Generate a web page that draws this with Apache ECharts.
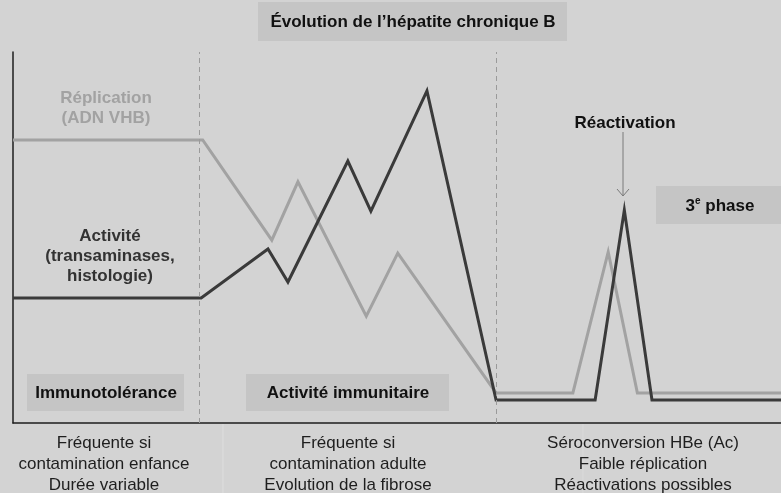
<!DOCTYPE html>
<html>
<head>
<meta charset="utf-8">
<script src="https://cdn.jsdelivr.net/npm/echarts@6/dist/echarts.min.js"></script>
<style>
  html, body { margin: 0; padding: 0; background: #d3d3d3; }
  #main { width: 781px; height: 493px; }
</style>
</head>
<body>
<div id="main"></div>
<script>
// temps (0-100) et niveau (0-100)
var replicationX = [0, 24.7, 33.7, 37.1, 46.0, 50.1, 62.9, 72.9, 77.5, 81.3, 100];
var replicationY = [76.3, 76.3, 49.3, 65.0, 28.8, 45.8, 8.1, 8.1, 46.1, 8.1, 8.1];
var activiteX = [0, 24.5, 33.2, 35.8, 43.6, 46.6, 53.9, 62.9, 75.8, 79.6, 83.2, 100];
var activiteY = [33.7, 33.7, 46.9, 38.0, 70.6, 57.1, 89.5, 6.2, 6.2, 57.4, 6.2, 6.2];
var phaseLimits = [24.3, 62.9];
var phaseNames = ['Immunotolérance', 'Activité immunitaire'];
var phaseNotes = [
  'Fréquente si\ncontamination enfance\nDurée variable',
  'Fréquente si\ncontamination adulte\nEvolution de la fibrose',
  'Séroconversion HBe (Ac)\nFaible réplication\nRéactivations possibles'
];

function pairs(xs, ys) {
  return xs.map(function (x, i) { return [x, ys[i]]; });
}

var font = '"Liberation Sans", Arial, sans-serif';
var myChart = echarts.init(document.getElementById('main'));

var option = {
  backgroundColor: '#d3d3d3',
  animation: false,
  grid: { left: 13, right: 0, top: 52, bottom: 70 },
  xAxis: {
    type: 'value', min: 0, max: 100,
    axisLine: { show: true, lineStyle: { color: '#1e1e1e', width: 1.5 } },
    axisTick: { show: false }, axisLabel: { show: false }, splitLine: { show: false }
  },
  yAxis: {
    type: 'value', min: 0, max: 100,
    axisLine: { show: true, lineStyle: { color: '#1e1e1e', width: 1.5 } },
    axisTick: { show: false }, axisLabel: { show: false }, splitLine: { show: false }
  },
  series: [
    {
      name: 'Réplication',
      type: 'line',
      data: pairs(replicationX, replicationY),
      symbol: 'none',
      lineStyle: { color: '#a2a2a2', width: 3, join: 'miter' },
      markLine: {
        silent: true,
        symbol: 'none',
        label: { show: false },
        lineStyle: { color: '#9a9a9a', width: 1, type: [5, 4] },
        data: phaseLimits.map(function (v) { return { xAxis: v }; })
      },
      z: 2
    },
    {
      name: 'Activité',
      type: 'line',
      data: pairs(activiteX, activiteY),
      symbol: 'none',
      lineStyle: { color: '#3a3a3a', width: 3, join: 'miter' },
      z: 3
    }
  ],
  graphic: [
    // titre
    { type: 'rect', shape: { x: 258, y: 2, width: 309, height: 39 }, style: { fill: '#c5c5c5' } },
    { type: 'text', x: 413, y: 22, style: { text: 'Évolution de l’hépatite chronique B', font: 'bold 17px ' + font, fill: '#111', align: 'center', verticalAlign: 'middle' } },
    // étiquettes des courbes
    { type: 'text', x: 106, y: 108, style: { text: 'Réplication\n(ADN VHB)', font: 'bold 17px ' + font, fill: '#a2a2a2', align: 'center', verticalAlign: 'middle', lineHeight: 20 } },
    { type: 'text', x: 110, y: 256, style: { text: 'Activité\n(transaminases,\nhistologie)', font: 'bold 17px ' + font, fill: '#333', align: 'center', verticalAlign: 'middle', lineHeight: 20 } },
    // réactivation
    { type: 'text', x: 625, y: 123, style: { text: 'Réactivation', font: 'bold 17px ' + font, fill: '#111', align: 'center', verticalAlign: 'middle' } },
    { type: 'line', shape: { x1: 623, y1: 132, x2: 623, y2: 196 }, style: { stroke: '#7a7a7a', lineWidth: 1 } },
    { type: 'polyline', shape: { points: [[617, 189], [623, 196], [629, 189]] }, style: { stroke: '#7a7a7a', lineWidth: 1, fill: null } },
    // 3e phase
    { type: 'rect', shape: { x: 656, y: 186, width: 125, height: 38 }, style: { fill: '#c5c5c5' } },
    { type: 'text', x: 720, y: 206, style: {
        text: '{a|3}{s|e}{a| phase}', align: 'center', verticalAlign: 'middle',
        rich: {
          a: { font: 'bold 17px ' + font, fill: '#111' },
          s: { font: 'bold 10px ' + font, fill: '#111', padding: [0, 0, 9, 0] }
        }
      } },
    // phases
    { type: 'rect', shape: { x: 27, y: 374, width: 157, height: 37 }, style: { fill: '#c5c5c5' } },
    { type: 'text', x: 106, y: 393, style: { text: phaseNames[0], font: 'bold 17px ' + font, fill: '#111', align: 'center', verticalAlign: 'middle' } },
    { type: 'rect', shape: { x: 246, y: 374, width: 203, height: 37 }, style: { fill: '#c5c5c5' } },
    { type: 'text', x: 348, y: 393, style: { text: phaseNames[1], font: 'bold 17px ' + font, fill: '#111', align: 'center', verticalAlign: 'middle' } },
    // colonnes du bas
    { type: 'line', shape: { x1: 223, y1: 424, x2: 223, y2: 493 }, style: { stroke: '#dedede', lineWidth: 1 } },
    { type: 'line', shape: { x1: 583, y1: 424, x2: 583, y2: 493 }, style: { stroke: '#dadada', lineWidth: 1 } },
    { type: 'text', x: 104, y: 464, style: { text: phaseNotes[0], font: '17px ' + font, fill: '#1e1e1e', align: 'center', verticalAlign: 'middle', lineHeight: 21 } },
    { type: 'text', x: 348, y: 464, style: { text: phaseNotes[1], font: '17px ' + font, fill: '#1e1e1e', align: 'center', verticalAlign: 'middle', lineHeight: 21 } },
    { type: 'text', x: 643, y: 464, style: { text: phaseNotes[2], font: '17px ' + font, fill: '#1e1e1e', align: 'center', verticalAlign: 'middle', lineHeight: 21 } }
  ]
};

myChart.setOption(option);
</script>
</body>
</html>
